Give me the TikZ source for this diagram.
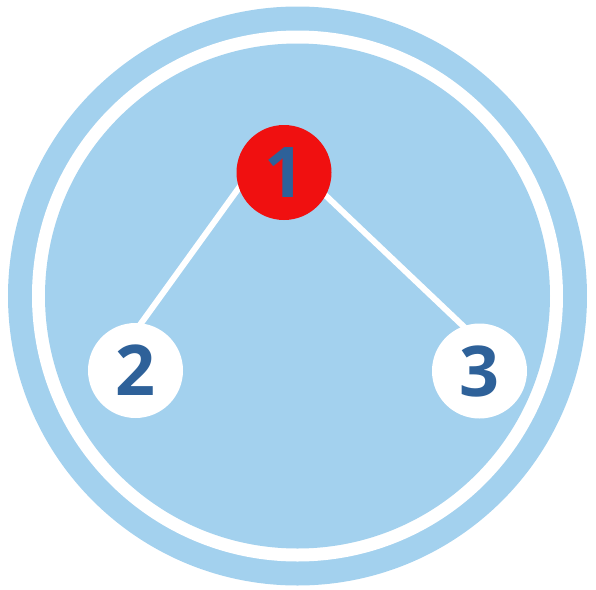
\documentclass[tikz,border=0pt]{standalone}
\usepackage{fontspec}
\setmainfont{Open Sans}
\usetikzlibrary{backgrounds}
\definecolor{ringblue}{HTML}{A3D1EE}
\definecolor{numblue}{HTML}{2E6199}
\definecolor{topred}{HTML}{F01010}
\begin{document}
\begin{tikzpicture}[x=0.5pt, y=-0.5pt,
  vertex/.style={circle, fill=white, minimum size=47.5pt, inner sep=0pt,
    text=numblue, font=\fontsize{35}{35}\selectfont\bfseries},
  edge/.style={white, line width=3pt, shorten <=-3pt, shorten >=-3pt}]
  \useasboundingbox (0,0) rectangle (596,590);

  % nodes
  \node[vertex, fill=topred] (n1) at (284,172.5) {1};
  \node[vertex] (n2) at (135.5,370.5) {2};
  \node[vertex] (n3) at (479.5,371) {3};

  \begin{pgfonlayer}{background}
    % outer ring and disk
    \fill[ringblue] (297.5,296) circle (289.5);
    \fill[white] (297.5,296) circle (265.5);
    \fill[ringblue] (297.5,296) circle (252.5);

    % edges
    \draw[edge] (n1.199) -- (n2.83);
    \draw[edge] (n1.331) -- (n3.110);
  \end{pgfonlayer}
\end{tikzpicture}
\end{document}
